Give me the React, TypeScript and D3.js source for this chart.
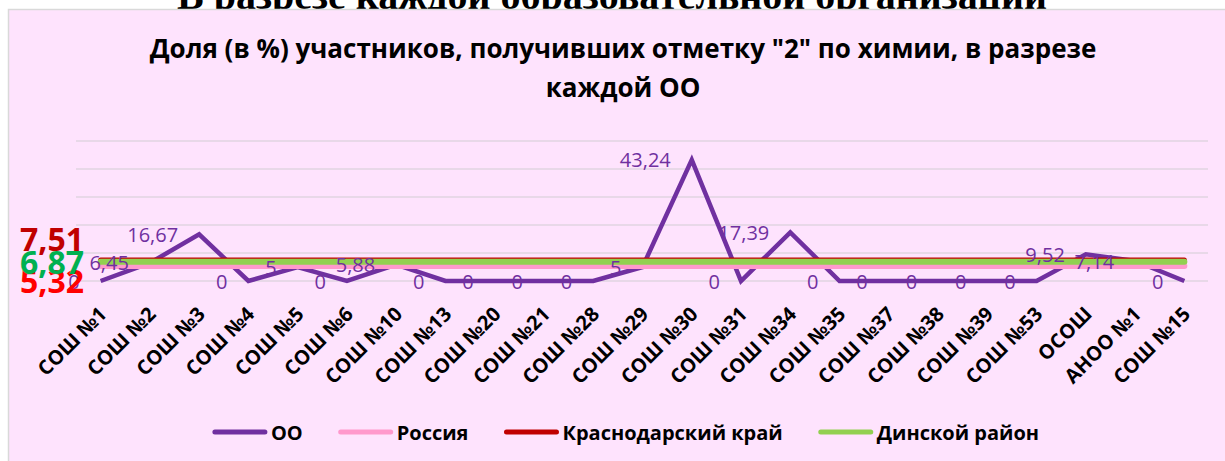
import React from "react";
import * as d3 from "d3";

const categories = ["СОШ №1","СОШ №2","СОШ №3","СОШ №4","СОШ №5","СОШ №6","СОШ №10","СОШ №13","СОШ №20","СОШ №21","СОШ №28","СОШ №29","СОШ №30","СОШ №31","СОШ №34","СОШ №35","СОШ №37","СОШ №38","СОШ №39","СОШ №53","ОСОШ","АНОО №1","СОШ №15"];
const ooValues = [0, 6.45, 16.67, 0, 5, 0, 5.88, 0, 0, 0, 0, 5, 43.24, 0, 17.39, 0, 0, 0, 0, 0, 9.52, 7.14, 0];
const russiaValue = 5.32;
const krasnodarValue = 7.51;
const dinskoyValue = 6.87;
const yTicks = [0, 10, 20, 30, 40, 50];
const seriesNames = ["ОО", "Россия", "Краснодарский край", "Динской район"];
const seriesColors = ["#7030A0", "#FF99CC", "#C00000", "#92D050"];
const titleLines = ["Доля (в %) участников, получивших отметку \"2\" по химии, в разрезе", "каждой ОО"];
const headerText = "В разрезе каждой образовательной организации";

const W = 1225, H = 461;
const FONT = "'Open Sans', Roboto, sans-serif";
const fmt = (v: number) => String(v).replace(".", ",");

function measure(text: string, font: string) {
  const c = document.createElement("canvas").getContext("2d")!;
  c.font = font;
  return c.measureText(text).width;
}

export default function App() {
  const x = d3.scalePoint<string>().domain(categories).range([76, 1209]).padding(0.5);
  const y = d3.scaleLinear().domain([0, 50]).range([281, 141]);
  const line = d3.line<number>().x((_, i) => x(categories[i])!).y((d) => y(d));
  const x0 = x(categories[0])!, x1 = x(categories[categories.length - 1])!;
  const refs = [
    { v: russiaValue, c: seriesColors[1] },
    { v: krasnodarValue, c: seriesColors[2] },
    { v: dinskoyValue, c: seriesColors[3] },
  ];

  const legendFontSize = 20;
  const legendFont = `bold ${legendFontSize}px 'Open Sans'`;
  const lineLen = 54, gap = 4, spacing = 36;
  const widths = seriesNames.map((n) => measure(n, legendFont));
  const total = widths.reduce((a, w) => a + lineLen + gap + w, 0) + spacing * (seriesNames.length - 1);
  let lx = 626 - total / 2;
  const legendItems = seriesNames.map((n, i) => {
    const item = { n, c: seriesColors[i], x: lx, w: widths[i] };
    lx += lineLen + gap + widths[i] + spacing;
    return item;
  });

  return (
    <svg width={W} height={H} style={{ position: "absolute", left: 0, top: 0, background: "#fff" }} fontFamily={FONT}>
      <text x={612} y={8.5} textAnchor="middle" fontFamily="'Liberation Serif', 'Times New Roman', serif" fontWeight="bold" fontSize={40} fill="#000">{headerText}</text>
      <rect x={8.5} y={9.5} width={1240} height={470} fill="#FEE3FD" stroke="#D9D9D9" strokeWidth={1.5} />
      {titleLines.map((t, i) => (
        <text key={i} x={623} y={i === 0 ? 58 : 97} textAnchor="middle" fontWeight="bold" fontSize={26} fill="#000">{t}</text>
      ))}
      <g>
        {yTicks.map((t) => (
          <line key={t} x1={76} x2={1208} y1={y(t)} y2={y(t)} stroke="#E0D5E0" strokeWidth={1.5} />
        ))}
      </g>
      <path d={line(ooValues) ?? ""} fill="none" stroke={seriesColors[0]} strokeWidth={4.5} strokeLinejoin="miter" />
      {refs.map((r, i) => (
        <line key={i} x1={x0} x2={x1} y1={y(r.v)} y2={y(r.v)} stroke={r.c} strokeWidth={i === 1 ? 5 : 6} strokeLinecap="round" />
      ))}
      <g fontSize={20} fill="#7030A0">
        {ooValues.map((v, i) => (
          <text key={i} x={x(categories[i])! - 21} y={y(v)} textAnchor="end" dominantBaseline="central">{fmt(v)}</text>
        ))}
      </g>
      <g fontWeight="bold" fontSize={32} textAnchor="end" dominantBaseline="central">
        <text x={84} y={238} fill="#C00000">{fmt(krasnodarValue)}</text>
        <text x={84} y={280} fill="#FF0000">{fmt(russiaValue)}</text>
        <text x={84} y={261} fill="#00B050">{fmt(dinskoyValue)}</text>
      </g>
      <g fontWeight="bold" fontSize={20} fill="#000">
        {categories.map((c) => (
          <text key={c} transform={`translate(${x(c)! + 2},310) rotate(-45)`} textAnchor="end" dominantBaseline="central">{c}</text>
        ))}
      </g>
      <g>
        {legendItems.map((it) => (
          <g key={it.n}>
            <line x1={it.x + 2} x2={it.x + lineLen - 2} y1={432} y2={432} stroke={it.c} strokeWidth={5} strokeLinecap="round" />
            <text x={it.x + lineLen + gap} y={432} dominantBaseline="central" fontWeight="bold" fontSize={legendFontSize} fill="#000">{it.n}</text>
          </g>
        ))}
      </g>
    </svg>
  );
}
